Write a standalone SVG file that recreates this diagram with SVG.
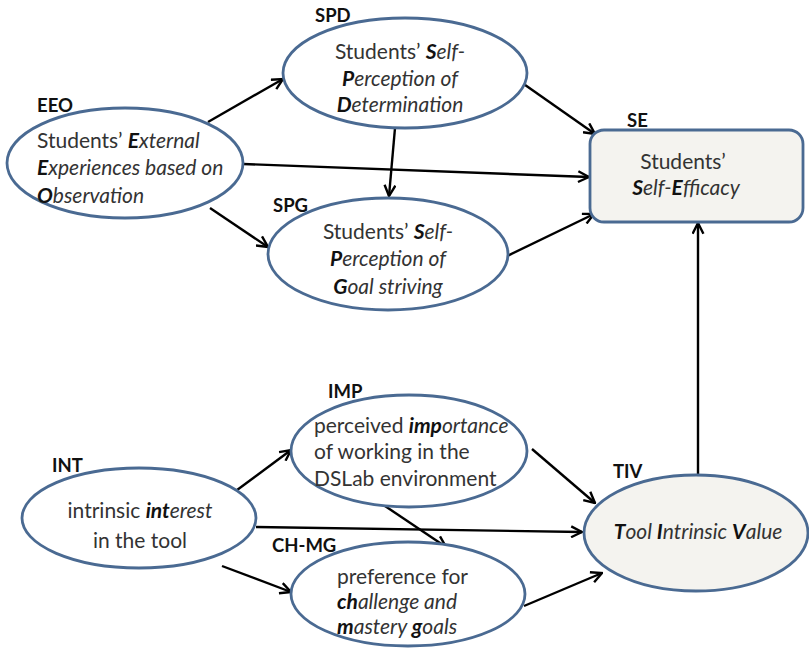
<svg xmlns="http://www.w3.org/2000/svg" width="809" height="649" viewBox="0 0 809 649">
<defs>
<marker id="ah" viewBox="0 0 12 12" refX="11" refY="6" markerWidth="13" markerHeight="13" markerUnits="userSpaceOnUse" orient="auto">
<path d="M1,1 L11,6 L1,11" fill="none" stroke="#000" stroke-width="2.2" stroke-linejoin="miter"/>
</marker>
<style>
.node{fill:#fff;stroke:#4a6a92;stroke-width:2.8}
.shade{fill:#f4f3ef}
.lab{font-family:Lato,"Open Sans",sans-serif;font-weight:bold;font-size:18.5px;fill:#111}
.t{font-family:Lato,"Open Sans",sans-serif;font-size:21px;fill:#333}
.b{font-weight:bold;font-style:italic;fill:#111}
.i{font-style:italic}
.c{text-anchor:middle}
.e{stroke:#000;stroke-width:2.4;fill:none;marker-end:url(#ah)}
</style>
</defs>
<rect width="809" height="649" fill="#fff"/>
<g id="connectors">
<line class="e" x1="208" y1="122" x2="283" y2="79"/>
<line class="e" x1="243" y1="164" x2="589" y2="177"/>
<line class="e" x1="210" y1="208" x2="268" y2="247"/>
<line class="e" x1="518" y1="80" x2="595" y2="134"/>
<line class="e" x1="395" y1="128" x2="389" y2="196"/>
<line class="e" x1="505" y1="257" x2="594" y2="214"/>
<line class="e" x1="698" y1="475" x2="698" y2="223"/>
<line class="e" x1="233" y1="493" x2="291" y2="450"/>
<line class="e" x1="256" y1="527" x2="582" y2="532"/>
<line class="e" x1="222" y1="566" x2="291" y2="592"/>
<line class="e" x1="532" y1="449" x2="595" y2="503"/>
<line class="e" x1="385" y1="506" x2="446" y2="547"/>
<line class="e" x1="524" y1="606" x2="602" y2="573"/>
</g>
<g id="EEO">
<ellipse class="node" cx="125" cy="163" rx="118" ry="55"/>
<text class="lab" x="37" y="112">EEO</text>
<text class="t" x="37" y="148">Students’ <tspan class="b">E</tspan><tspan class="i">xternal</tspan></text>
<text class="t i" x="37" y="175"><tspan class="b">E</tspan>xperiences based on</text>
<text class="t i" x="37" y="203"><tspan class="b">O</tspan>bservation</text>
</g>
<g id="SPD">
<ellipse class="node" cx="405" cy="73" rx="122" ry="55"/>
<text class="lab" x="315" y="22">SPD</text>
<text class="t c" x="400" y="59">Students’ <tspan class="b">S</tspan><tspan class="i">elf-</tspan></text>
<text class="t c i" x="400" y="86"><tspan class="b">P</tspan>erception of</text>
<text class="t c i" x="400" y="112"><tspan class="b">D</tspan>etermination</text>
</g>
<g id="SPG">
<ellipse class="node" cx="388" cy="254" rx="120" ry="56"/>
<text class="lab" x="273" y="212">SPG</text>
<text class="t c" x="388" y="239">Students’ <tspan class="b">S</tspan><tspan class="i">elf-</tspan></text>
<text class="t c i" x="388" y="266"><tspan class="b">P</tspan>erception of</text>
<text class="t c i" x="388" y="294"><tspan class="b">G</tspan>oal striving</text>
</g>
<g id="SE">
<rect class="node shade" x="590" y="130" width="213" height="92" rx="14"/>
<text class="lab" x="627" y="127">SE</text>
<text class="t c" x="683" y="169">Students’</text>
<text class="t c i" x="686" y="195"><tspan class="b">S</tspan>elf-<tspan class="b">E</tspan>fficacy</text>
</g>
<g id="INT">
<ellipse class="node" cx="139" cy="518" rx="117" ry="50"/>
<text class="lab" x="52" y="472">INT</text>
<text class="t c" x="140" y="518">intrinsic <tspan class="b">int</tspan><tspan class="i">erest</tspan></text>
<text class="t c" x="140" y="548">in the tool</text>
</g>
<g id="IMP">
<ellipse class="node" cx="409" cy="451" rx="118" ry="56"/>
<text class="lab" x="328" y="398">IMP</text>
<text class="t" x="314" y="433">perceived <tspan class="b">imp</tspan><tspan class="i">ortance</tspan></text>
<text class="t" x="314" y="459">of working in the</text>
<text class="t" x="314" y="486">DSLab environment</text>
</g>
<g id="CH-MG">
<ellipse class="node" cx="408" cy="594" rx="117" ry="52"/>
<text class="lab" x="272" y="552">CH-MG</text>
<text class="t" x="337" y="584">preference for</text>
<text class="t i" x="337" y="609"><tspan class="b">ch</tspan>allenge and</text>
<text class="t i" x="337" y="634"><tspan class="b">m</tspan>astery <tspan class="b">g</tspan>oals</text>
</g>
<g id="TIV">
<ellipse class="node shade" cx="696" cy="533" rx="112" ry="58"/>
<text class="lab" x="613" y="478">TIV</text>
<text class="t c i" x="698" y="539"><tspan class="b">T</tspan>ool <tspan class="b">I</tspan>ntrinsic <tspan class="b">V</tspan>alue</text>
</g>
</svg>
